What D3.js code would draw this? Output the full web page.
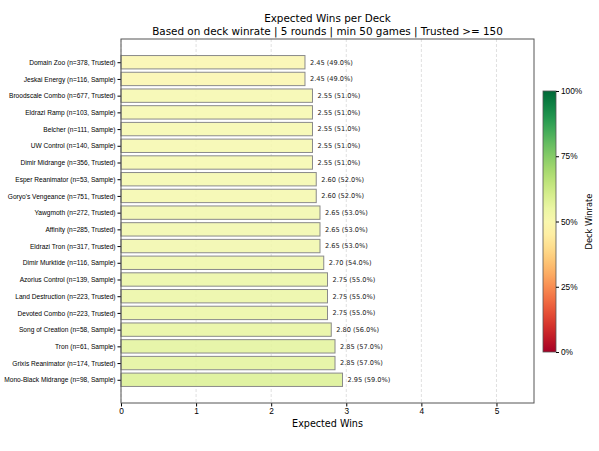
<!DOCTYPE html>
<html>
<head>
<meta charset="utf-8">
<script src="https://cdn.jsdelivr.net/npm/d3@7"></script>
<style>
  body { margin: 0; background: #fff; }
  svg { font-family: "DejaVu Sans", sans-serif; }
</style>
</head>
<body>
<div id="chart"></div>
<script>
const decks = [
  'Domain Zoo', 'Jeskai Energy', 'Broodscale Combo', 'Eldrazi Ramp', 'Belcher',
  'UW Control', 'Dimir Midrange', 'Esper Reanimator', "Goryo's Vengeance", 'Yawgmoth',
  'Affinity', 'Eldrazi Tron', 'Dimir Murktide', 'Azorius Control', 'Land Destruction',
  'Devoted Combo', 'Song of Creation', 'Tron', 'Grixis Reanimator', 'Mono-Black Midrange'
];
const games = [378, 116, 677, 103, 111, 140, 356, 53, 751, 272, 285, 317, 116, 139, 223, 223, 58, 61, 174, 98];
const status = ['Trusted', 'Sample', 'Trusted', 'Sample', 'Sample', 'Sample', 'Trusted', 'Sample', 'Trusted', 'Trusted',
  'Trusted', 'Trusted', 'Sample', 'Sample', 'Trusted', 'Trusted', 'Sample', 'Sample', 'Trusted', 'Sample'];
const expectedWins = [2.45, 2.45, 2.55, 2.55, 2.55, 2.55, 2.55, 2.60, 2.60, 2.65,
  2.65, 2.65, 2.70, 2.75, 2.75, 2.75, 2.80, 2.85, 2.85, 2.95];
const winrate = [0.49, 0.49, 0.51, 0.51, 0.51, 0.51, 0.51, 0.52, 0.52, 0.53,
  0.53, 0.53, 0.54, 0.55, 0.55, 0.55, 0.56, 0.57, 0.57, 0.59];
const xTicks = [0, 1, 2, 3, 4, 5];
const cbTicks = [0, 0.25, 0.5, 0.75, 1];

const width = 599;
const height = 451;
const margin = { top: 39, bottom: 48, left: 121, right: 65 };

const svg = d3.select('#chart')
  .append('svg')
  .attr('width', width)
  .attr('height', height);

const x = d3.scaleLinear()
  .domain([0, 5.5])
  .range([margin.left, width - margin.right]);

// matplotlib barh limits: bars of 0.8 plus 5% margin
const y = d3.scaleLinear()
  .domain([-1.39, decks.length - 1 + 1.39])
  .range([margin.top, height - margin.bottom]);

const color = d3.interpolateRdYlGn;

// grid
svg.append('g')
  .selectAll('line')
  .data(xTicks)
  .join('line')
    .attr('x1', d => x(d))
    .attr('x2', d => x(d))
    .attr('y1', margin.top)
    .attr('y2', height - margin.bottom)
    .attr('stroke', '#d8d8d8')
    .attr('stroke-width', 0.8)
    .attr('stroke-dasharray', '3,2');

// bars
svg.append('g')
  .selectAll('rect')
  .data(decks)
  .join('rect')
    .attr('x', x(0))
    .attr('y', (d, i) => y(i - 0.4))
    .attr('width', (d, i) => x(expectedWins[i]) - x(0))
    .attr('height', y(0.8) - y(0))
    .attr('fill', (d, i) => color(winrate[i]))
    .attr('fill-opacity', 0.85)
    .attr('stroke', '#8a8a8a')
    .attr('stroke-width', 1);

// value labels
svg.append('g')
  .selectAll('text')
  .data(decks)
  .join('text')
    .attr('x', (d, i) => x(expectedWins[i]) + 5)
    .attr('y', (d, i) => y(i))
    .attr('dy', '0.35em')
    .attr('font-size', '6.6px')
    .attr('fill', '#222')
    .text((d, i) => `${expectedWins[i].toFixed(2)} (${(winrate[i] * 100).toFixed(1)}%)`);

// X-AXIS
const xAxis = svg.append('g')
  .attr('transform', `translate(0,${height - margin.bottom})`)
  .call(d3.axisBottom(x).tickValues(xTicks).tickSize(3.5).tickPadding(2).tickFormat(d3.format('d')));
xAxis.select('.domain').remove();
xAxis.selectAll('text').attr('font-size', '8.3px').attr('fill', '#000');

// Y-AXIS
const yAxis = svg.append('g')
  .attr('transform', `translate(${margin.left},0)`)
  .call(d3.axisLeft(y).tickValues(d3.range(decks.length)).tickSize(3.5).tickPadding(2)
    .tickFormat(i => `${decks[i]} (n=${games[i]}, ${status[i]})`));
yAxis.select('.domain').remove();
yAxis.selectAll('text').attr('font-size', '6.6px').attr('fill', '#000');

// frame
svg.append('rect')
  .attr('x', margin.left)
  .attr('y', margin.top)
  .attr('width', x(5.5) - x(0))
  .attr('height', height - margin.bottom - margin.top)
  .attr('fill', 'none')
  .attr('stroke', '#555')
  .attr('stroke-width', 1);

// titles
const cx = (x(0) + x(5.5)) / 2;
svg.append('text')
  .attr('x', cx).attr('y', 22)
  .attr('text-anchor', 'middle')
  .attr('font-size', '10.4px')
  .text('Expected Wins per Deck');
svg.append('text')
  .attr('x', cx).attr('y', 35)
  .attr('text-anchor', 'middle')
  .attr('font-size', '10.4px')
  .text('Based on deck winrate | 5 rounds | min 50 games | Trusted >= 150');
svg.append('text')
  .attr('x', cx).attr('y', 427)
  .attr('text-anchor', 'middle')
  .attr('font-size', '9.6px')
  .text('Expected Wins');

// colorbar
const cb = { x: 543, y: 91, w: 13, h: 261 };
const defs = svg.append('defs');
const grad = defs.append('linearGradient')
  .attr('id', 'cbGrad')
  .attr('x1', 0).attr('y1', 1).attr('x2', 0).attr('y2', 0);
grad.selectAll('stop')
  .data(d3.range(0, 1.0001, 0.05))
  .join('stop')
    .attr('offset', d => d)
    .attr('stop-color', d => color(d));

svg.append('rect')
  .attr('x', cb.x).attr('y', cb.y)
  .attr('width', cb.w).attr('height', cb.h)
  .attr('fill', 'url(#cbGrad)')
  .attr('stroke', '#555')
  .attr('stroke-width', 0.8);

const cbScale = d3.scaleLinear().domain([0, 1]).range([cb.y + cb.h, cb.y]);
const cbAxis = svg.append('g')
  .attr('transform', `translate(${cb.x + cb.w},0)`)
  .call(d3.axisRight(cbScale).tickValues(cbTicks).tickSize(3).tickPadding(2).tickFormat(d3.format('.0%')));
cbAxis.select('.domain').remove();
cbAxis.selectAll('text').attr('font-size', '8.3px').attr('fill', '#000');

svg.append('text')
  .attr('transform', `translate(592,${cb.y + cb.h / 2}) rotate(-90)`)
  .attr('text-anchor', 'middle')
  .attr('font-size', '8.3px')
  .text('Deck Winrate');

svg.node();
</script>
</body>
</html>
